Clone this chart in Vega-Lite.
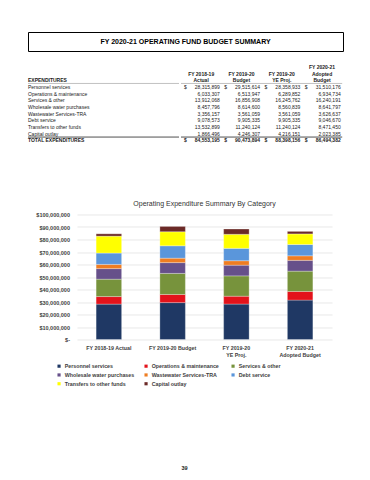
{
  "$schema": "https://vega.github.io/schema/vega-lite/v6.json",
  "background": "white",
  "padding": {"left": 27, "top": 31, "right": 0, "bottom": 0},
  "spacing": 55.5,
  "resolve": {"scale": {"color": "independent"}, "legend": {"color": "independent"}},
  "config": {
    "font": "Liberation Sans",
    "view": {"stroke": null}
  },
  "datasets": {
    "budget": [
      {"item": "Personnel services", "year": "FY 2018-19 Actual", "value": 28315899},
      {"item": "Personnel services", "year": "FY 2019-20 Budget", "value": 29515614},
      {"item": "Personnel services", "year": "FY 2019-20 YE Proj.", "value": 28358933},
      {"item": "Personnel services", "year": "FY 2020-21 Adopted Budget", "value": 31510176},
      {"item": "Operations & maintenance", "year": "FY 2018-19 Actual", "value": 6033307},
      {"item": "Operations & maintenance", "year": "FY 2019-20 Budget", "value": 6513947},
      {"item": "Operations & maintenance", "year": "FY 2019-20 YE Proj.", "value": 6289852},
      {"item": "Operations & maintenance", "year": "FY 2020-21 Adopted Budget", "value": 6934734},
      {"item": "Services & other", "year": "FY 2018-19 Actual", "value": 13912068},
      {"item": "Services & other", "year": "FY 2019-20 Budget", "value": 16856908},
      {"item": "Services & other", "year": "FY 2019-20 YE Proj.", "value": 16245762},
      {"item": "Services & other", "year": "FY 2020-21 Adopted Budget", "value": 16240191},
      {"item": "Wholesale water purchases", "year": "FY 2018-19 Actual", "value": 8457796},
      {"item": "Wholesale water purchases", "year": "FY 2019-20 Budget", "value": 8614600},
      {"item": "Wholesale water purchases", "year": "FY 2019-20 YE Proj.", "value": 8560839},
      {"item": "Wholesale water purchases", "year": "FY 2020-21 Adopted Budget", "value": 8641797},
      {"item": "Wastewater Services-TRA", "year": "FY 2018-19 Actual", "value": 3356157},
      {"item": "Wastewater Services-TRA", "year": "FY 2019-20 Budget", "value": 3561059},
      {"item": "Wastewater Services-TRA", "year": "FY 2019-20 YE Proj.", "value": 3561059},
      {"item": "Wastewater Services-TRA", "year": "FY 2020-21 Adopted Budget", "value": 3626637},
      {"item": "Debt service", "year": "FY 2018-19 Actual", "value": 9078573},
      {"item": "Debt service", "year": "FY 2019-20 Budget", "value": 9905335},
      {"item": "Debt service", "year": "FY 2019-20 YE Proj.", "value": 9905335},
      {"item": "Debt service", "year": "FY 2020-21 Adopted Budget", "value": 9046670},
      {"item": "Transfers to other funds", "year": "FY 2018-19 Actual", "value": 13532899},
      {"item": "Transfers to other funds", "year": "FY 2019-20 Budget", "value": 11240124},
      {"item": "Transfers to other funds", "year": "FY 2019-20 YE Proj.", "value": 11240124},
      {"item": "Transfers to other funds", "year": "FY 2020-21 Adopted Budget", "value": 8471450},
      {"item": "Capital outlay", "year": "FY 2018-19 Actual", "value": 1866496},
      {"item": "Capital outlay", "year": "FY 2019-20 Budget", "value": 4246307},
      {"item": "Capital outlay", "year": "FY 2019-20 YE Proj.", "value": 4216151},
      {"item": "Capital outlay", "year": "FY 2020-21 Adopted Budget", "value": 2023385},
      {"item": "TOTAL EXPENDITURES", "year": "FY 2018-19 Actual", "value": 84553195},
      {"item": "TOTAL EXPENDITURES", "year": "FY 2019-20 Budget", "value": 90473894},
      {"item": "TOTAL EXPENDITURES", "year": "FY 2019-20 YE Proj.", "value": 88398156},
      {"item": "TOTAL EXPENDITURES", "year": "FY 2020-21 Adopted Budget", "value": 86494382}
    ],
    "page": [{"page": "39"}]
  },
  "vconcat": [
    {
      "spacing": 11.75,
      "vconcat": [
        {
          "width": 315,
          "height": 19,
          "view": {"stroke": "#000000", "strokeWidth": 1},
          "data": {"values": [{}]},
          "mark": {"type": "text", "text": "FY 2020-21 OPERATING FUND BUDGET SUMMARY", "fontSize": 7, "fontWeight": "bold", "color": "#000000", "baseline": "middle"},
          "encoding": {}
        },
        {
          "spacing": 0,
          "hconcat": [
            {
              "width": 151,
              "height": 67,
              "data": {"name": "budget"},
              "layer": [
                {
                  "data": {"values": [{}]},
                  "mark": {"type": "rule", "color": "#808080", "strokeWidth": 0.5},
                  "encoding": {"y": {"datum": "Personnel services", "type": "nominal", "bandPosition": 0, "scale": {"type": "band"}, "axis": null}}
                },
                {
                  "data": {"values": [{}]},
                  "mark": {"type": "rule", "color": "#222222", "strokeWidth": 0.8},
                  "encoding": {"y": {"datum": "TOTAL EXPENDITURES", "type": "nominal", "bandPosition": 0, "scale": {"type": "band"}, "axis": null}}
                },
                {
                  "encoding": {
                    "x": {"field": "year", "type": "nominal", "bandPosition": 0, "scale": {"type": "band", "paddingInner": 0, "paddingOuter": 0}, "axis": null},
                    "y": {
                      "field": "item", "type": "nominal",
                      "scale": {"type": "band", "domain": ["EXPENDITURES", "Personnel services", "Operations & maintenance", "Services & other", "Wholesale water purchases", "Wastewater Services-TRA", "Debt service", "Transfers to other funds", "Capital outlay", "TOTAL EXPENDITURES"], "paddingInner": 0, "paddingOuter": 0},
                      "axis": null
                    },
                    "text": {"field": "item", "type": "nominal"}
                  },
                  "layer": [
                    {
                      "transform": [{"filter": "datum.year == 'FY 2018-19 Actual' && datum.item != 'TOTAL EXPENDITURES'"}],
                      "mark": {"type": "text", "align": "left", "baseline": "middle", "fontSize": 5, "color": "#222222"}
                    },
                    {
                      "transform": [{"filter": "datum.year == 'FY 2018-19 Actual' && datum.item == 'TOTAL EXPENDITURES'"}],
                      "mark": {"type": "text", "align": "left", "baseline": "middle", "fontSize": 5, "fontWeight": "bold", "color": "#222222"}
                    }
                  ]
                },
                {
                  "data": {"values": [{}]},
                  "mark": {"type": "text", "text": "EXPENDITURES", "align": "left", "baseline": "middle", "fontSize": 5, "fontWeight": "bold", "color": "#222222"},
                  "encoding": {
                    "x": {"datum": "FY 2018-19 Actual", "type": "nominal", "bandPosition": 0},
                    "y": {"datum": "EXPENDITURES", "type": "nominal"}
                  }
                }
              ]
            },
            {
              "width": 161.2,
              "height": 67,
              "data": {"name": "budget"},
              "layer": [
                {
                  "data": {"values": [{}]},
                  "mark": {"type": "rule", "color": "#808080", "strokeWidth": 0.5},
                  "encoding": {"y": {"datum": "Personnel services", "type": "nominal", "bandPosition": 0, "scale": {"type": "band"}, "axis": null}}
                },
                {
                  "data": {"values": [{}]},
                  "mark": {"type": "rule", "color": "#222222", "strokeWidth": 0.8},
                  "encoding": {"y": {"datum": "TOTAL EXPENDITURES", "type": "nominal", "bandPosition": 0, "scale": {"type": "band"}, "axis": null}}
                },
                {
                  "encoding": {
                    "x": {
                      "field": "year", "type": "nominal",
                      "scale": {"type": "band", "domain": ["FY 2018-19 Actual", "FY 2019-20 Budget", "FY 2019-20 YE Proj.", "FY 2020-21 Adopted Budget"], "paddingInner": 0, "paddingOuter": 0},
                      "axis": {
                        "orient": "top", "offset": 7.25, "title": null, "labelAngle": 0, "labelAlign": "center", "labelPadding": 0, "ticks": false, "tickSize": 0, "domain": false,
                        "labelFontSize": 5, "labelFontWeight": "bold", "labelColor": "#222222", "labelLineHeight": 6.7, "labelBaseline": "bottom", "labelOverlap": false, "labelLimit": 200,
                        "labelExpr": "datum.value == 'FY 2018-19 Actual' ? [' ', 'FY 2018-19', 'Actual'] : datum.value == 'FY 2019-20 Budget' ? [' ', 'FY 2019-20', 'Budget'] : datum.value == 'FY 2019-20 YE Proj.' ? [' ', 'FY 2019-20', 'YE Proj.'] : ['FY 2020-21', 'Adopted', 'Budget']"
                      }
                    },
                    "y": {
                      "field": "item", "type": "nominal",
                      "scale": {"type": "band", "domain": ["EXPENDITURES", "Personnel services", "Operations & maintenance", "Services & other", "Wholesale water purchases", "Wastewater Services-TRA", "Debt service", "Transfers to other funds", "Capital outlay", "TOTAL EXPENDITURES"], "paddingInner": 0, "paddingOuter": 0},
                      "axis": null
                    }
                  },
                  "layer": [
                    {
                      "transform": [{"filter": "datum.item != 'TOTAL EXPENDITURES'"}],
                      "mark": {"type": "text", "align": "right", "baseline": "middle", "fontSize": 5, "dx": -1.5, "color": "#222222"},
                      "encoding": {"x": {"field": "year", "type": "nominal", "bandPosition": 1}, "text": {"field": "value", "type": "quantitative", "format": ","}}
                    },
                    {
                      "transform": [{"filter": "datum.item == 'TOTAL EXPENDITURES'"}],
                      "mark": {"type": "text", "align": "right", "baseline": "middle", "fontSize": 5, "fontWeight": "bold", "dx": -1.5, "color": "#222222"},
                      "encoding": {"x": {"field": "year", "type": "nominal", "bandPosition": 1}, "text": {"field": "value", "type": "quantitative", "format": ","}}
                    },
                    {
                      "transform": [{"filter": "datum.item == 'Personnel services'"}],
                      "mark": {"type": "text", "text": "$", "align": "left", "baseline": "middle", "fontSize": 5, "dx": 2.9, "color": "#222222"},
                      "encoding": {"x": {"field": "year", "type": "nominal", "bandPosition": 0}}
                    },
                    {
                      "transform": [{"filter": "datum.item == 'TOTAL EXPENDITURES'"}],
                      "mark": {"type": "text", "text": "$", "align": "left", "baseline": "middle", "fontSize": 5, "fontWeight": "bold", "dx": 2.9, "color": "#222222"},
                      "encoding": {"x": {"field": "year", "type": "nominal", "bandPosition": 0}}
                    }
                  ]
                }
              ]
            }
          ]
        }
      ]
    },
    {
      "spacing": 0,
      "resolve": {"scale": {"color": "independent"}, "legend": {"color": "independent"}},
      "hconcat": [
        {
          "width": 7,
          "height": 1,
          "data": {"values": [{}]},
          "mark": {"type": "text", "text": ""},
          "encoding": {}
        },
        {
          "width": 255,
          "height": 125,
          "data": {"name": "budget"},
          "transform": [
            {"filter": "datum.item != 'TOTAL EXPENDITURES'"},
            {"window": [{"op": "row_number", "as": "stack_rank"}], "groupby": ["year"]}
          ],
          "title": {"text": "Operating Expenditure Summary By Category", "fontSize": 7, "fontWeight": "normal", "color": "#333333", "baseline": "bottom", "offset": -1, "anchor": "middle"},
          "mark": {"type": "bar", "stroke": "#ffffff", "strokeWidth": 0.4, "strokeOpacity": 0.7},
          "encoding": {
            "x": {
              "field": "year", "type": "nominal",
              "sort": ["FY 2018-19 Actual", "FY 2019-20 Budget", "FY 2019-20 YE Proj.", "FY 2020-21 Adopted Budget"],
              "scale": {"paddingInner": 0.6, "paddingOuter": 0.3},
              "axis": {
                "title": null, "labelAngle": 0, "labelFontSize": 5.3, "labelFontWeight": "bold", "labelColor": "#404040", "labelPadding": 6, "labelLineHeight": 7.3,
                "ticks": false, "tickSize": 0, "domain": false, "labelOverlap": false,
                "labelExpr": "datum.value == 'FY 2019-20 YE Proj.' ? ['FY 2019-20', 'YE Proj.'] : datum.value == 'FY 2020-21 Adopted Budget' ? ['FY 2020-21', 'Adopted Budget'] : datum.label"
              }
            },
            "y": {
              "field": "value", "type": "quantitative", "stack": "zero",
              "scale": {"domain": [0, 100000000]},
              "axis": {
                "title": null,
                "values": [0, 10000000, 20000000, 30000000, 40000000, 50000000, 60000000, 70000000, 80000000, 90000000, 100000000],
                "labelExpr": "datum.value == 0 ? '$-' : format(datum.value, '$,')",
                "labelFontSize": 5.5, "labelFontWeight": "bold", "labelColor": "#404040", "labelPadding": 7.5,
                "ticks": false, "tickSize": 0, "domain": false, "gridColor": "#d9d9d9", "gridWidth": 0.6
              }
            },
            "order": {"field": "stack_rank", "type": "quantitative", "sort": "ascending"},
            "color": {
              "field": "item", "type": "nominal",
              "sort": ["Personnel services", "Operations & maintenance", "Services & other", "Wholesale water purchases", "Wastewater Services-TRA", "Debt service", "Transfers to other funds", "Capital outlay"],
              "scale": {
                "domain": ["Personnel services", "Operations & maintenance", "Services & other", "Wholesale water purchases", "Wastewater Services-TRA", "Debt service", "Transfers to other funds", "Capital outlay"],
                "range": ["#1f3864", "#e3131b", "#77933c", "#66508a", "#ee7d22", "#5a96db", "#ffff00", "#6b2a27"]
              },
              "legend": {
                "orient": "none", "direction": "horizontal", "legendX": -20.6, "legendY": 149, "title": null, "columns": 3, "gridAlign": "all", "padding": 0,
                "symbolType": "square", "symbolSize": 10, "symbolStrokeWidth": 0,
                "labelFontSize": 5.3, "labelFontWeight": "bold", "labelColor": "#404040", "labelOffset": 3, "labelLimit": 200,
                "columnPadding": 9, "rowPadding": 2.8
              }
            }
          }
        }
      ]
    },
    {
      "width": 313,
      "height": 28,
      "data": {"name": "page"},
      "mark": {"type": "text", "fontSize": 5.5, "fontWeight": "bold", "baseline": "bottom", "color": "#222222"},
      "encoding": {
        "text": {"field": "page"},
        "y": {"field": "page", "type": "nominal", "bandPosition": 1, "scale": {"type": "band", "paddingInner": 0, "paddingOuter": 0}, "axis": null}
      }
    }
  ]
}
